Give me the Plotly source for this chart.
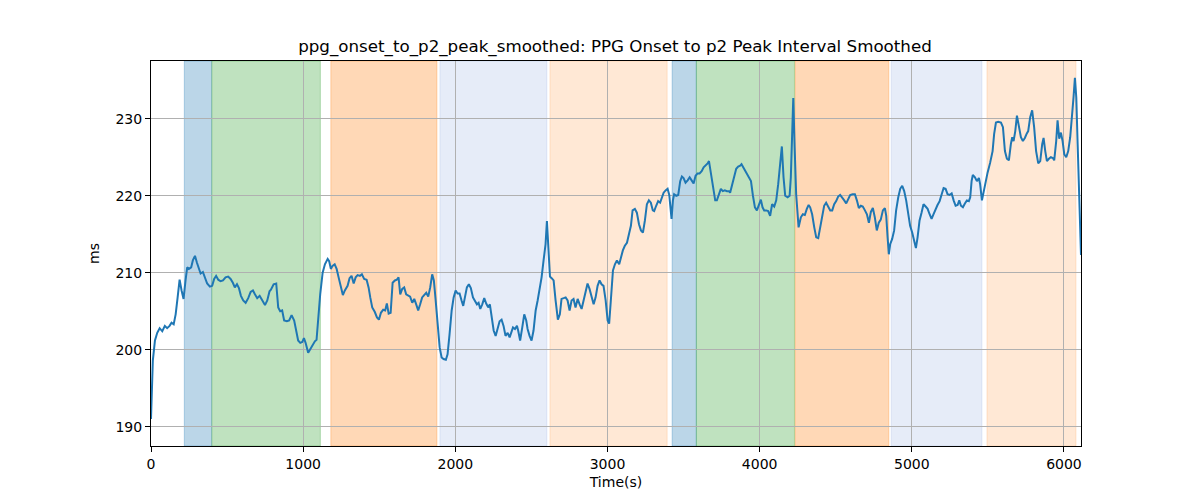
import plotly.graph_objects as go

time_s = [0, 12, 26, 41, 57, 74, 91, 106, 122, 135, 149, 162, 175, 188, 201, 214, 227, 238, 249, 264,
          275, 289, 302, 315, 326, 341, 354, 369, 387, 402, 415, 428, 442, 457, 473, 490, 507, 523, 538, 551,
          565, 578, 591, 606, 622, 639, 655, 670, 683, 698, 714, 731, 749, 764, 779, 788,
          806, 823, 836, 849, 862, 875, 893, 908, 924, 941, 954, 967, 981, 994, 1005, 1016, 1033, 1046, 1062,
          1077, 1088, 1099, 1112, 1128, 1143, 1161, 1171, 1182, 1193, 1207, 1220, 1233, 1248, 1261, 1274, 1292,
          1305, 1318, 1332, 1345, 1358, 1373, 1386, 1401, 1417, 1430, 1441, 1454, 1471, 1485, 1498, 1511, 1526,
          1539, 1550, 1562, 1575,
          1588, 1603, 1616, 1627, 1638, 1651, 1664, 1677, 1690, 1703, 1717, 1730, 1743, 1756, 1769, 1782, 1795,
          1809, 1822, 1835, 1848, 1859, 1870, 1884, 1897, 1910, 1923, 1938, 1949, 1962, 1976, 1989, 2002, 2015,
          2028, 2041, 2052, 2063, 2076, 2089, 2102, 2116, 2129, 2142, 2153, 2164, 2177, 2190, 2203, 2216, 2227,
          2238, 2252, 2265, 2278, 2291, 2304, 2317, 2330, 2344, 2357, 2365,
          2379, 2392, 2405, 2413, 2426, 2440, 2453, 2466, 2475, 2488, 2501, 2514, 2528, 2541, 2554, 2567, 2580,
          2593, 2602, 2610, 2622, 2633, 2646, 2659, 2674, 2687, 2698, 2712, 2725, 2738, 2751, 2764, 2777, 2790,
          2804, 2817, 2830, 2843, 2856, 2869, 2882, 2896, 2909, 2922, 2935, 2948, 2961, 2974, 2988, 3001, 3011,
          3022, 3036, 3049, 3062, 3077, 3088, 3101, 3114, 3128, 3141,
          3154, 3165, 3180, 3193, 3207, 3220, 3233, 3246, 3259, 3272, 3285, 3298, 3307, 3320, 3333, 3346, 3358,
          3369, 3382, 3395, 3406, 3417, 3421, 3430, 3438, 3452, 3465, 3478, 3489, 3500, 3513, 3527, 3540, 3553,
          3566, 3579, 3592, 3605, 3619, 3632, 3645, 3658, 3667, 3675, 3686, 3697, 3708, 3719, 3732, 3745, 3758,
          3771, 3785, 3798, 3806, 3820, 3833, 3846, 3859, 3872, 3881, 3895, 3908, 3921, 3934, 3943,
          3956, 3969, 3982, 3995, 4008, 4019, 4030, 4043, 4056, 4069, 4082, 4096, 4109, 4122, 4135, 4146, 4157,
          4168, 4184, 4197, 4205, 4214, 4221, 4230, 4240, 4256, 4271, 4284, 4297, 4310, 4322, 4332, 4345, 4359,
          4372, 4385, 4398, 4411, 4424, 4437, 4450, 4464, 4477, 4490, 4503, 4516, 4529, 4543, 4556, 4569, 4582,
          4595, 4611, 4626, 4639, 4652, 4665, 4678, 4692, 4705, 4718, 4731,
          4744, 4757, 4770, 4783, 4796, 4810, 4823, 4832, 4841, 4849, 4858, 4871, 4884, 4897, 4911, 4924, 4937,
          4950, 4963, 4976, 4989, 5003, 5016, 5027, 5038, 5051, 5064, 5077, 5091, 5104, 5117, 5130, 5143, 5156,
          5169, 5183, 5196, 5209, 5222, 5235, 5248, 5262, 5275, 5288, 5301, 5312, 5323, 5336, 5349, 5362, 5375,
          5384, 5393, 5401, 5415, 5428, 5441, 5449, 5461, 5472, 5485, 5498, 5515,
          5531, 5541, 5553, 5568, 5586, 5599, 5612, 5625, 5638, 5651, 5660, 5669, 5680, 5691, 5704, 5717, 5730,
          5743, 5756, 5765, 5778, 5791, 5804, 5817, 5831, 5844, 5857, 5866, 5877, 5888, 5901, 5914, 5927, 5936,
          5949, 5958, 5969, 5980, 5991, 6002, 6015, 6028, 6041, 6054, 6063, 6072, 6081, 6090, 6101, 6112]

ms_values = [191.0, 198.6, 201.2, 202.2, 202.8, 202.4, 203.1, 202.8, 203.1, 203.5, 203.3, 204.6, 206.8, 209.1, 207.7,
             206.6, 209.0, 210.7, 210.5, 210.7, 211.6, 212.2, 211.3, 210.5, 209.9, 210.1, 209.4, 208.6, 208.2, 208.3,
             209.2, 209.6, 209.1, 208.9, 209.0, 209.4, 209.5, 209.2, 208.7, 208.1, 208.5, 208.0, 207.0, 206.4, 206.1,
             206.7, 207.5, 207.7, 207.2, 206.7, 207.0, 206.4, 205.8, 206.4, 207.6, 207.8,
             208.5, 208.6, 205.5, 205.0, 205.1, 203.8, 203.7, 203.8, 204.5, 203.8, 202.5, 201.2, 200.9, 201.0, 201.5,
             200.9, 199.6, 200.1, 200.6, 201.1, 201.3, 204.2, 207.2, 210.0, 211.1, 211.8, 211.5, 210.5, 210.9, 211.1,
             210.5, 209.4, 207.9, 207.1, 207.7, 208.3, 209.3, 209.6, 208.6, 209.4, 209.7, 209.6, 209.8, 209.2, 209.1,
             208.1, 206.8, 205.5, 204.9, 204.2, 203.9, 204.8, 205.2, 205.1, 206.0, 204.7, 204.8,
             208.7, 209.0, 209.1, 209.4, 207.2, 207.9, 208.1, 207.2, 207.0, 206.9, 206.1, 206.6, 205.9, 205.1, 205.9,
             206.8, 207.1, 207.4, 206.9, 208.1, 209.8, 209.0, 206.6, 202.9, 200.3, 199.0, 198.8, 198.7, 199.4, 202.0,
             205.1, 206.8, 207.7, 207.3, 207.3, 206.4, 205.7, 206.8, 208.1, 208.5, 208.0, 206.8, 206.4, 205.9, 206.1,
             205.3, 205.9, 206.7, 206.0, 205.5, 205.9, 204.2, 202.5, 201.8, 202.7, 203.7, 203.9, 203.1, 201.8, 202.2,
             201.6, 202.1,
             202.9, 202.7, 203.1, 202.5, 201.2, 202.9, 204.6, 203.8, 202.7, 201.8, 201.2, 202.5, 205.1, 206.4, 207.7,
             209.4, 211.6, 213.7, 216.7, 213.7, 209.5, 209.3, 209.0, 206.4, 203.9, 204.6, 206.6, 206.7, 206.8, 206.4,
             205.1, 206.4, 206.6, 205.5, 206.6, 205.9, 205.3, 206.4, 207.7, 208.6, 207.9, 206.8, 205.9, 206.8, 208.3,
             209.0, 208.5, 208.3, 206.4, 203.8, 203.4, 206.4, 210.3, 211.1, 211.6, 211.1, 212.0, 212.9, 213.5, 213.9,
             215.0,
             216.1, 218.1, 218.3, 217.8, 216.3, 215.5, 215.2, 216.8, 218.9, 219.4, 219.1, 218.1, 218.0, 218.7, 219.3,
             219.1, 219.8, 220.4, 220.7, 220.9, 220.1, 217.8, 217.0, 219.4, 220.2, 220.0, 220.1, 221.9, 222.5, 222.3,
             221.7, 222.0, 222.4, 222.0, 221.6, 222.6, 222.9, 222.9, 223.2, 223.7, 223.9, 224.2, 224.5, 223.5, 222.2,
             220.6, 219.4, 219.4, 220.2, 220.9, 220.6, 220.7, 220.6, 220.6, 220.4, 221.5, 222.6, 223.5, 223.8, 223.9,
             224.1, 223.6, 223.2, 222.8, 222.2, 221.9,
             220.0, 218.5, 218.1, 218.9, 219.5, 218.5, 218.1, 218.1, 218.0, 217.4, 218.9, 218.6, 219.4, 221.5, 224.1,
             226.4, 222.4, 220.0, 219.8, 220.0, 222.4, 228.9, 232.7, 226.3, 220.2, 215.9, 217.2, 217.6, 217.5, 218.3,
             218.8, 218.5, 217.6, 215.9, 214.6, 214.5, 215.9, 217.8, 218.7, 219.1, 218.5, 218.1, 218.1, 218.9, 219.3,
             219.9, 220.1, 219.8, 219.4, 219.0, 219.6, 220.1, 220.2, 220.2, 219.4, 218.4, 218.7, 218.6, 218.1, 217.6,
             216.5, 217.9,
             218.4, 217.2, 215.5, 216.5, 216.9, 218.1, 218.4, 217.4, 214.6, 212.4, 213.7, 214.4, 215.5, 218.1, 219.8,
             220.9, 221.3, 220.6, 219.4, 217.4, 216.1, 215.2, 213.9, 213.2, 214.6, 216.8, 217.8, 218.9, 218.6, 218.3,
             217.6, 217.0, 217.6, 218.3, 218.8, 219.3, 220.2, 221.0, 220.9, 220.2, 220.1, 220.3, 219.4, 218.7, 218.8,
             219.4, 218.7, 218.5, 219.0, 219.4, 219.3, 219.8, 221.9, 222.7, 222.4, 221.9, 222.3, 221.5, 219.4, 220.6,
             221.9, 223.0, 224.3,
             225.8, 228.0, 229.5, 229.6, 229.5, 228.9, 225.8, 224.8, 224.6, 226.7, 227.6, 227.1, 228.4, 230.4, 228.9,
             227.6, 227.1, 227.5, 228.1, 228.4, 230.2, 231.1, 228.9, 225.8, 224.2, 224.5, 226.7, 227.5, 225.8, 224.5,
             224.8, 225.0, 224.9, 224.6, 227.1, 229.8, 227.4, 228.2, 227.1, 225.4, 225.0, 225.8, 227.6, 230.2, 232.8,
             235.3, 232.8, 226.7, 220.2, 212.3]

span_start = [219, 400, 1182, 1899, 2622, 3425, 3584, 4233, 4865, 5494]
span_end = [398, 1113, 1879, 2602, 3392, 3584, 4229, 4849, 5461, 6079]
span_rgb = ["31,119,180", "44,160,44", "255,127,14", "140,170,225", "255,160,80",
            "31,119,180", "44,160,44", "255,127,14", "140,170,225", "255,160,80"]
span_alpha = [0.3, 0.3, 0.3, 0.22, 0.24, 0.3, 0.3, 0.3, 0.22, 0.24]

x_ticks = [0, 1000, 2000, 3000, 4000, 5000, 6000]
y_ticks = [190, 200, 210, 220, 230]

fig = go.Figure()
fig.add_trace(go.Scatter(x=time_s, y=ms_values, mode="lines",
                         line=dict(color="#1f77b4", width=2), showlegend=False))

for s, e, c, a in zip(span_start, span_end, span_rgb, span_alpha):
    fig.add_shape(type="rect", xref="x", yref="paper", x0=s, x1=e, y0=0, y1=1,
                  fillcolor=f"rgba({c},{a})", line=dict(color=f"rgba({c},{a})", width=1),
                  layer="below")

font = "DejaVu Sans, sans-serif"
fig.update_layout(
    width=1200, height=500,
    margin=dict(l=143, r=127, t=53, b=62),
    paper_bgcolor="white", plot_bgcolor="white",
    font=dict(family=font, size=14, color="black"),
    title=dict(text="ppg_onset_to_p2_peak_smoothed: PPG Onset to p2 Peak Interval Smoothed",
               x=607/1200, xanchor="center", y=1 - 38.5/500, yanchor="middle",
               font=dict(family=font, size=16.7, color="black")),
    xaxis=dict(range=[0, 6112], tickvals=x_ticks, ticks="outside", ticklen=5, tickcolor="black",
               showline=True, linecolor="black", linewidth=1, mirror=True,
               showgrid=True, gridcolor="#b0b0b0", gridwidth=1, zeroline=False,
               tickfont=dict(size=14), title=dict(text="Time(s)", font=dict(size=14), standoff=6)),
    yaxis=dict(range=[187.5, 237.5], tickvals=y_ticks, ticks="outside", ticklen=5, tickcolor="black",
               showline=True, linecolor="black", linewidth=1, mirror=True,
               showgrid=True, gridcolor="#b0b0b0", gridwidth=1, zeroline=False,
               tickfont=dict(size=14), title=dict(text="ms", font=dict(size=14), standoff=12)),
)

fig.write_html("out.html")
